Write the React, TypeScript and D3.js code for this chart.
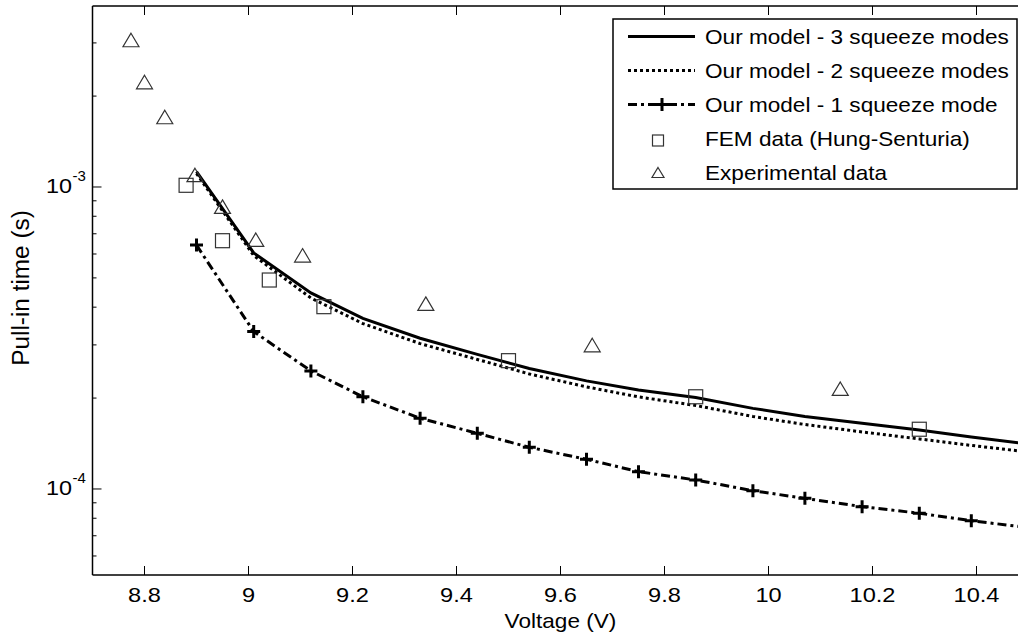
import React from "react";
import * as d3 from "d3";

const width = 1018;
const height = 638;
const plot = { left: 92.5, right: 1028.5, top: 6, bottom: 575 }; // right edge falls outside the picture
const font = "'Liberation Sans', Arial, Helvetica, sans-serif";

// model curves share the same voltage points
const modeVoltages = [8.9, 9.01, 9.12, 9.22, 9.33, 9.44, 9.54, 9.65, 9.75, 9.86, 9.97, 10.07, 10.18, 10.29, 10.39, 10.5];
const threeModes = [1.124e-3, 6.05e-4, 4.46e-4, 3.67e-4, 3.155e-4, 2.79e-4, 2.507e-4, 2.28e-4, 2.128e-4, 2.01e-4, 1.849e-4, 1.739e-4, 1.652e-4, 1.568e-4, 1.487e-4, 1.41e-4];
const twoModes = [1.108e-3, 5.93e-4, 4.29e-4, 3.53e-4, 3.03e-4, 2.685e-4, 2.404e-4, 2.178e-4, 2.018e-4, 1.89e-4, 1.738e-4, 1.635e-4, 1.545e-4, 1.465e-4, 1.394e-4, 1.326e-4];
const oneMode = [6.42e-4, 3.32e-4, 2.46e-4, 2.02e-4, 1.715e-4, 1.529e-4, 1.374e-4, 1.254e-4, 1.141e-4, 1.071e-4, 9.87e-5, 9.31e-5, 8.74e-5, 8.31e-5, 7.85e-5, 7.45e-5];

const femVoltages = [8.88, 8.95, 9.04, 9.145, 9.5, 9.86, 10.29];
const femTimes = [1.013e-3, 6.64e-4, 4.92e-4, 4.015e-4, 2.66e-4, 2.02e-4, 1.577e-4];

const expVoltages = [8.774, 8.8, 8.839, 8.897, 8.95, 9.014, 9.104, 9.341, 9.661, 10.138];
const expTimes = [3.067e-3, 2.226e-3, 1.705e-3, 1.096e-3, 8.61e-4, 6.69e-4, 5.94e-4, 4.11e-4, 2.997e-4, 2.148e-4];

const xTicks = [8.8, 9, 9.2, 9.4, 9.6, 9.8, 10, 10.2, 10.4];
const yMajorTicks = [1e-4, 1e-3];
const yTickExponents = ["-4", "-3"];
const legendLabels = [
  "Our model - 3 squeeze modes",
  "Our model - 2 squeeze modes",
  "Our model - 1 squeeze mode",
  "FEM data (Hung-Senturia)",
  "Experimental data",
];

const x = d3.scaleLinear().domain([8.7, 10.5]).range([plot.left, plot.right]);
const y = d3.scaleLog().domain([5.19e-5, 3.975e-3]).range([plot.bottom, plot.top]);

const line = d3
  .line<[number, number]>()
  .x((d) => x(d[0]))
  .y((d) => y(d[1]));

const zip = (xs: number[], ys: number[]): [number, number][] => xs.map((v, i) => [v, ys[i]]);

// minor log ticks inside the domain
const yMinorTicks: number[] = [];
[1e-5, 1e-4, 1e-3].forEach((dec) => {
  for (let k = 2; k <= 9; k++) {
    const v = k * dec;
    if (y(v) > plot.top + 2 && y(v) < plot.bottom) yMinorTicks.push(v);
  }
});

const DOTTED = "3,3";
const DASHDOT = "9,4,3,4";

// the original text is a bit wider than Arial, so stretch it horizontally
const Label = ({
  x0,
  y0,
  size,
  stretch = 1.13,
  anchor = "start",
  rotate = 0,
  children,
}: {
  x0: number;
  y0: number;
  size: number;
  stretch?: number;
  anchor?: string;
  rotate?: number;
  children: React.ReactNode;
}) => (
  <g transform={`translate(${x0},${y0}) rotate(${rotate}) scale(${stretch},1)`}>
    <text fontSize={size} textAnchor={anchor} fill="#000">
      {children}
    </text>
  </g>
);

const Plus = ({ cx, cy, s = 13 }: { cx: number; cy: number; s?: number }) => (
  <path
    d={`M${cx - s / 2},${cy}H${cx + s / 2}M${cx},${cy - s / 2}V${cy + s / 2}`}
    stroke="#000"
    strokeWidth={3}
  />
);

const Square = ({ cx, cy, s = 14 }: { cx: number; cy: number; s?: number }) => (
  <rect x={cx - s / 2} y={cy - s / 2} width={s} height={s} fill="none" stroke="#333" strokeWidth={1.2} />
);

const Triangle = ({ cx, cy, w = 16, h = 13.5 }: { cx: number; cy: number; w?: number; h?: number }) => (
  <path
    d={`M${cx},${cy - h / 2}L${cx + w / 2},${cy + h / 2}L${cx - w / 2},${cy + h / 2}Z`}
    fill="none"
    stroke="#333"
    strokeWidth={1.2}
  />
);

const App = () => {
  const legend = { left: 613, top: 19, right: 1017, bottom: 189 };
  const rowY = (i: number) => 36.5 + i * 34;

  return (
    <svg
      width={width}
      height={height}
      style={{ position: "absolute", left: 0, top: 0, background: "#fff" }}
      fontFamily={font}
    >
      <defs>
        <clipPath id="plotArea">
          <rect x={plot.left} y={plot.top} width={plot.right - plot.left} height={plot.bottom - plot.top} />
        </clipPath>
      </defs>
      <rect width={width} height={height} fill="#fff" />

      {/* curves */}
      <g clipPath="url(#plotArea)" fill="none">
        <path d={line(zip(modeVoltages, threeModes)) || ""} stroke="#000" strokeWidth={3} />
        <path d={line(zip(modeVoltages, twoModes)) || ""} stroke="#000" strokeWidth={3} strokeDasharray={DOTTED} />
        <path d={line(zip(modeVoltages, oneMode)) || ""} stroke="#000" strokeWidth={3} strokeDasharray={DASHDOT} />
        {modeVoltages.map((v, i) => (
          <Plus key={"p" + i} cx={x(v)} cy={y(oneMode[i])} />
        ))}
        {femVoltages.map((v, i) => (
          <Square key={"s" + i} cx={x(v)} cy={y(femTimes[i])} />
        ))}
        {expVoltages.map((v, i) => (
          <Triangle key={"t" + i} cx={x(v)} cy={y(expTimes[i])} />
        ))}
      </g>

      {/* axes */}
      <g stroke="#000" strokeWidth={1.5} fill="none">
        <line x1={plot.left} x2={plot.right} y1={plot.bottom} y2={plot.bottom} />
        <line x1={plot.left} x2={plot.right} y1={plot.top} y2={plot.top} />
        <line x1={plot.left} x2={plot.left} y1={plot.top} y2={plot.bottom} />
        {xTicks.map((t) => (
          <g key={"xt" + t}>
            <line x1={x(t)} x2={x(t)} y1={plot.bottom} y2={plot.bottom - 9} strokeWidth={1} />
            <line x1={x(t)} x2={x(t)} y1={plot.top} y2={plot.top + 9} strokeWidth={1} />
          </g>
        ))}
        {yMajorTicks.map((t) => (
          <line key={"ym" + t} x1={plot.left} x2={plot.left + 9} y1={y(t)} y2={y(t)} strokeWidth={1} />
        ))}
        {yMinorTicks.map((t) => (
          <line key={"yn" + t} x1={plot.left} x2={plot.left + 4} y1={y(t)} y2={y(t)} strokeWidth={1} />
        ))}
      </g>

      {/* tick labels */}
      {xTicks.map((t) => (
        <Label key={"xl" + t} x0={x(t)} y0={601.5} size={20} stretch={1.18} anchor="middle">
          {d3.format("~g")(t)}
        </Label>
      ))}
      {yMajorTicks.map((t, i) => (
        <g key={"yl" + t}>
          <Label x0={72} y0={y(t) + 6.5} size={19.5} stretch={1.2} anchor="end">
            10
          </Label>
          <Label x0={72.5} y0={y(t) - 6.3} size={15} stretch={1}>
            {yTickExponents[i]}
          </Label>
        </g>
      ))}

      {/* axis titles */}
      <Label x0={(plot.left + plot.right) / 2} y0={628} size={20} stretch={1.13} anchor="middle">
        Voltage (V)
      </Label>
      <Label x0={28.5} y0={288} size={23} stretch={1.06} anchor="middle" rotate={-90}>
        Pull-in time (s)
      </Label>

      {/* legend */}
      <g>
        <rect
          x={legend.left}
          y={legend.top}
          width={legend.right - legend.left}
          height={legend.bottom - legend.top}
          fill="#fff"
          stroke="#000"
          strokeWidth={1.5}
        />
        <line x1={628} x2={695} y1={rowY(0)} y2={rowY(0)} stroke="#000" strokeWidth={3} />
        <line x1={628} x2={695} y1={rowY(1)} y2={rowY(1)} stroke="#000" strokeWidth={3} strokeDasharray={DOTTED} />
        <line x1={628} x2={695} y1={rowY(2)} y2={rowY(2)} stroke="#000" strokeWidth={3} strokeDasharray={DASHDOT} />
        <Plus cx={662} cy={rowY(2)} />
        <Square cx={658} cy={rowY(3) + 2} s={11} />
        <Triangle cx={658} cy={rowY(4)} w={12} h={10} />
        {legendLabels.map((l, i) => (
          <Label key={l} x0={705} y0={rowY(i) + 7.5} size={20} stretch={1.13}>
            {l}
          </Label>
        ))}
      </g>
    </svg>
  );
};

export default App;
